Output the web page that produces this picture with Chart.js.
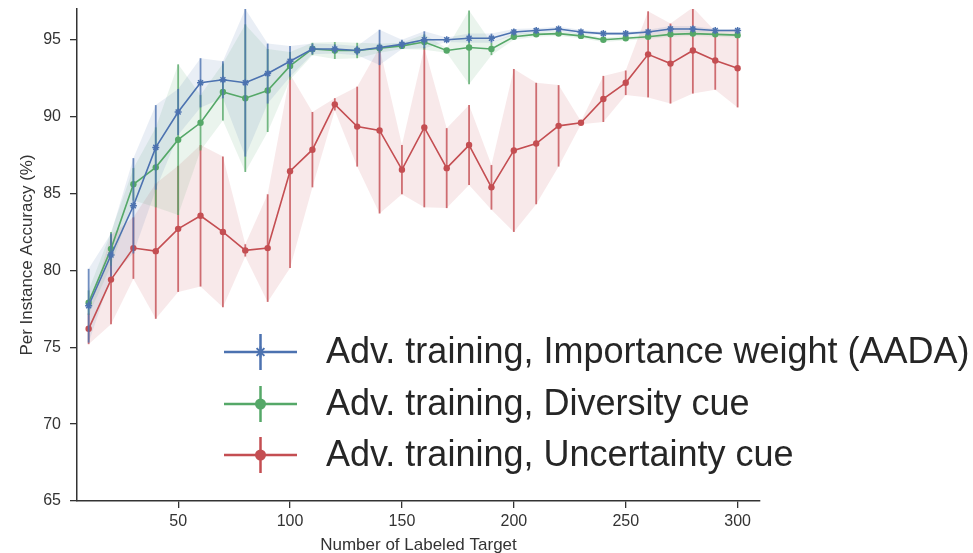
<!DOCTYPE html>
<html>
<head>
<meta charset="utf-8">
<title>Per instance accuracy vs labeled target</title>
<script src="https://cdn.jsdelivr.net/npm/chart.js@4.4.1/dist/chart.umd.min.js"></script>
<style>
  html, body { margin: 0; padding: 0; background: #fff; }
  #wrap { width: 973px; height: 553px; }
</style>
</head>
<body>
<div id="wrap"><canvas id="acc-chart" width="973" height="553"></canvas></div>
<script>
// number of labeled target samples
const labeled = [10, 20, 30, 40, 50, 60, 70, 80, 90, 100, 110, 120, 130, 140, 150,
  160, 170, 180, 190, 200, 210, 220, 230, 240, 250, 260, 270, 280, 290, 300];

// importance weight (AADA)
const aadaMean = [77.7, 81.0, 84.2, 88.0, 90.3, 92.2, 92.4, 92.2, 92.8, 93.6, 94.4, 94.4, 94.3, 94.5, 94.7,
  95.0, 95.0, 95.1, 95.1, 95.5, 95.6, 95.7, 95.5, 95.4, 95.4, 95.5, 95.7, 95.7, 95.6, 95.6];
const aadaErr = [2.4, 1.4, 3.1, 2.75, 1.5, 1.6, 1.2, 4.8, 1.95, 1.0, 0.35, 0.3, 0.3, 1.15, 0.3,
  0.55, 0.15, 0.3, 0.3, 0.2, 0.15, 0.15, 0.15, 0.1, 0.1, 0.15, 0.2, 0.2, 0.1, 0.1];

// diversity cue
const diversityMean = [77.9, 81.4, 85.6, 86.7, 88.5, 89.6, 91.6, 91.2, 91.7, 93.3, 94.4, 94.3, 94.3, 94.45, 94.6,
  94.85, 94.3, 94.5, 94.4, 95.2, 95.35, 95.4, 95.25, 95.0, 95.1, 95.2, 95.35, 95.4, 95.35, 95.3];
const diversityErr = [0.8, 1.1, 1.05, 2.6, 4.9, 1.8, 1.85, 4.8, 2.7, 0.9, 0.4, 0.55, 0.5, 0.3, 0.2,
  0.5, 0.15, 2.4, 0.4, 0.2, 0.15, 0.15, 0.15, 0.15, 0.15, 0.15, 0.15, 0.15, 0.15, 0.15];

// uncertainty cue
const uncertaintyMean = [76.2, 79.4, 81.45, 81.25, 82.7, 83.55, 82.5, 81.3, 81.45, 86.45, 87.85, 90.8, 89.35, 89.1, 86.55,
  89.3, 86.65, 88.15, 85.4, 87.8, 88.25, 89.4, 89.6, 91.15, 92.2, 94.05, 93.45, 94.3, 93.65, 93.15];
const uncertaintyErr = [1.0, 2.9, 2.0, 4.4, 4.1, 4.6, 4.9, 0.4, 3.5, 6.3, 2.45, 0.4, 2.6, 5.4, 1.6,
  5.2, 2.6, 2.6, 1.45, 5.3, 3.95, 2.65, 0.1, 1.5, 0.8, 2.8, 2.6, 2.8, 1.9, 2.55];

const xTicks = [50, 100, 150, 200, 250, 300];
const yTicks = [65, 70, 75, 80, 85, 90, 95];

const seriesLabels = [
  'Adv. training, Importance weight (AADA)',
  'Adv. training, Diversity cue',
  'Adv. training, Uncertainty cue'
];

const series = [
  { mean: aadaMean, err: aadaErr, rgb: '76,114,176', marker: 'star', radius: 3.5 },
  { mean: diversityMean, err: diversityErr, rgb: '85,168,104', marker: 'circle', radius: 3.2 },
  { mean: uncertaintyMean, err: uncertaintyErr, rgb: '196,78,82', marker: 'circle', radius: 3.2 }
];

const pts = (arr) => arr.map((v, i) => ({ x: labeled[i], y: v }));

// mean lines first so they are painted on top, then the shaded bands
const datasets = series.map((s, i) => ({
  label: seriesLabels[i],
  data: pts(s.mean),
  borderColor: `rgb(${s.rgb})`,
  backgroundColor: `rgb(${s.rgb})`,
  borderWidth: 1.6,
  pointStyle: s.marker,
  pointRadius: s.radius,
  pointBorderWidth: s.marker === 'star' ? 1.5 : 0,
  pointBorderColor: `rgb(${s.rgb})`,
  fill: false,
  tension: 0
}));

series.forEach((s) => {
  datasets.push({
    data: pts(s.mean.map((m, i) => m + s.err[i])),
    borderWidth: 0,
    pointRadius: 0,
    fill: false
  });
  datasets.push({
    data: pts(s.mean.map((m, i) => m - s.err[i])),
    borderWidth: 0,
    pointRadius: 0,
    backgroundColor: `rgba(${s.rgb},0.12)`,
    fill: '-1'
  });
});

// vertical error bars, painted just before each mean line
const errorBars = {
  id: 'errorBars',
  beforeDatasetDraw(chart, args) {
    const s = series[args.index];
    if (!s) return;
    const { ctx, chartArea, scales } = chart;
    ctx.save();
    ctx.beginPath();
    ctx.rect(chartArea.left, chartArea.top, chartArea.right - chartArea.left, chartArea.bottom - chartArea.top);
    ctx.clip();
    ctx.strokeStyle = `rgba(${s.rgb},0.8)`;
    ctx.lineWidth = 1.8;
    s.mean.forEach((m, i) => {
      const x = scales.x.getPixelForValue(labeled[i]);
      ctx.beginPath();
      ctx.moveTo(x, scales.y.getPixelForValue(m + s.err[i]));
      ctx.lineTo(x, scales.y.getPixelForValue(m - s.err[i]));
      ctx.stroke();
    });
    ctx.restore();
  }
};

// legend drawn inside the axes, lower right
const bigLegend = {
  id: 'bigLegend',
  afterDraw(chart) {
    const { ctx } = chart;
    const lineX0 = 224, lineX1 = 297, textX = 326;
    const rowY = [352, 404, 455];
    ctx.save();
    series.forEach((s, i) => {
      const y = rowY[i];
      const cx = (lineX0 + lineX1) / 2;
      ctx.strokeStyle = `rgb(${s.rgb})`;
      ctx.lineWidth = 2.5;
      ctx.beginPath();
      ctx.moveTo(lineX0, y);
      ctx.lineTo(lineX1, y);
      ctx.moveTo(cx, y - 18);
      ctx.lineTo(cx, y + 18);
      ctx.stroke();
      ctx.fillStyle = `rgb(${s.rgb})`;
      ctx.lineWidth = 2;
      Chart.helpers.drawPoint(ctx, { pointStyle: s.marker, radius: s.marker === 'star' ? 5.5 : 4.5, rotation: 0, borderWidth: 2 }, cx, y);
      ctx.fillStyle = '#262626';
      ctx.font = '36px "Liberation Sans", Arial, sans-serif';
      ctx.textBaseline = 'middle';
      ctx.textAlign = 'left';
      ctx.fillText(seriesLabels[i], textX, y + 1);
    });
    ctx.restore();
  }
};

const fontFamily = '"Liberation Sans", Arial, sans-serif';
const tickFont = { family: fontFamily, size: 16 };
const titleFont = { family: fontFamily, size: 17 };

new Chart(document.getElementById('acc-chart').getContext('2d'), {
  type: 'line',
  data: { datasets },
  plugins: [errorBars, bigLegend],
  options: {
    responsive: false,
    animation: false,
    layout: { padding: { left: 0, right: 213, top: 9, bottom: 0 } },
    plugins: {
      legend: { display: false },
      tooltip: { enabled: false },
      filler: { propagate: false }
    },
    scales: {
      x: {
        type: 'linear',
        min: 4.8,
        max: 310,
        afterFit: (scale) => {
          scale.height = 52;
          scale.paddingLeft = 0;
          scale.paddingRight = 0;
        },
        afterBuildTicks: (scale) => { scale.ticks = xTicks.map(v => ({ value: v })); },
        grid: { drawOnChartArea: false, drawTicks: true, tickLength: 7, color: '#333', lineWidth: 1.3 },
        border: { display: true, color: '#333', width: 1.5 },
        ticks: { color: '#333', font: tickFont, padding: 4, maxRotation: 0 },
        title: {
          display: true,
          text: 'Number of Labeled Target',
          color: '#333',
          font: titleFont,
          padding: { top: 0, bottom: -3 }
        }
      },
      y: {
        type: 'linear',
        min: 65,
        max: 97,
        afterFit: (scale) => {
          scale.width = 77;
          scale.paddingTop = 0;
          scale.paddingBottom = 0;
        },
        afterBuildTicks: (scale) => { scale.ticks = yTicks.map(v => ({ value: v })); },
        grid: { drawOnChartArea: false, drawTicks: true, tickLength: 7, color: '#333', lineWidth: 1.3 },
        border: { display: true, color: '#333', width: 1.5 },
        ticks: { color: '#333', font: tickFont, padding: 9 },
        title: {
          display: true,
          text: 'Per Instance Accuracy (%)',
          color: '#333',
          font: titleFont,
          padding: { top: 17, bottom: 0 }
        }
      }
    }
  }
});
</script>
</body>
</html>
